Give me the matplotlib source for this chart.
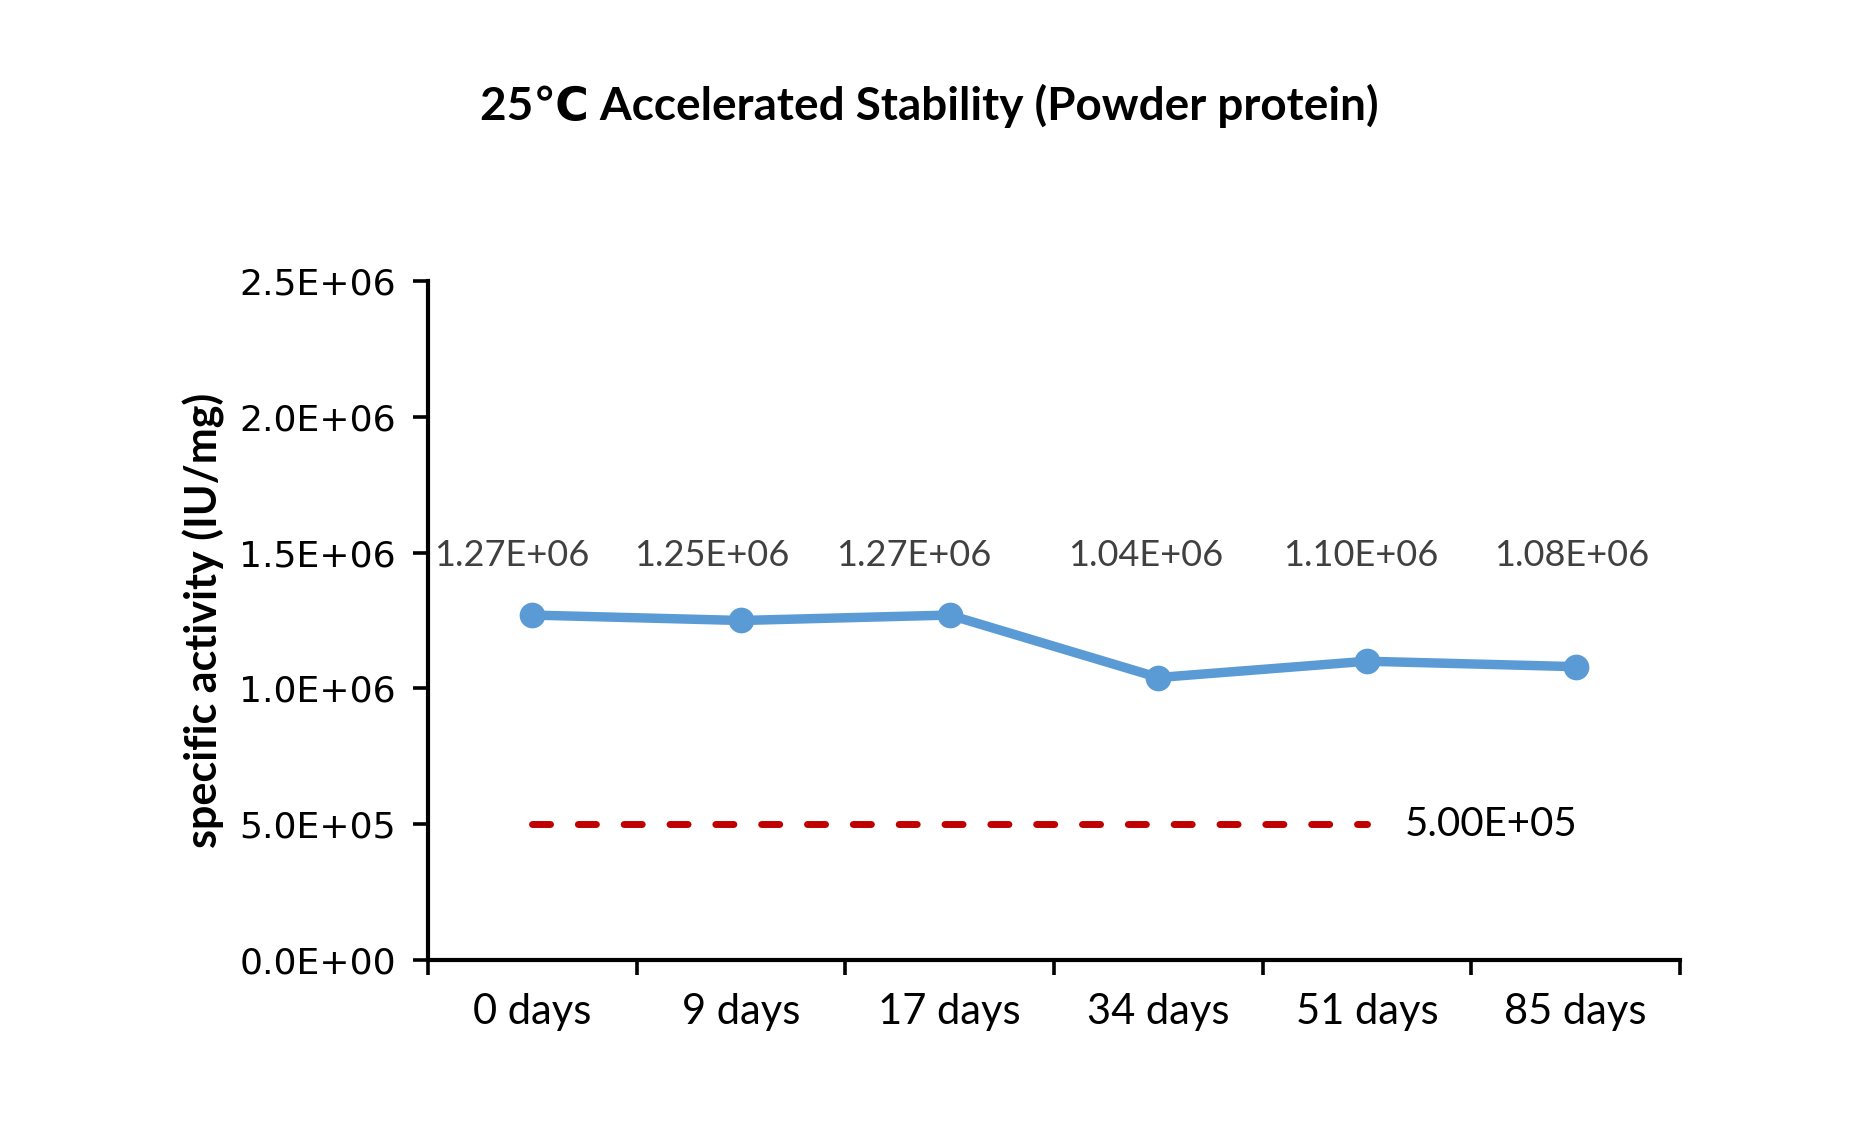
import matplotlib
matplotlib.use("Agg")
import matplotlib.pyplot as plt
import numpy as np

# data
days = ['0 days', '9 days', '17 days', '34 days', '51 days', '85 days']
activity = [1.27e6, 1.25e6, 1.27e6, 1.04e6, 1.10e6, 1.08e6]
activity_labels = ['1.27E+06', '1.25E+06', '1.27E+06', '1.04E+06', '1.10E+06', '1.08E+06']
spec_limit = [5.0e5, 5.0e5, 5.0e5, 5.0e5, 5.0e5]
spec_label = '5.00E+05'
y_ticks = [0, 5e5, 1e6, 1.5e6, 2e6, 2.5e6]
y_tick_labels = ['0.0E+00', '5.0E+05', '1.0E+06', '1.5E+06', '2.0E+06', '2.5E+06']

BLUE = '#5B9BD5'
RED = '#C00000'
LABEL_FONT = ['Lato', 'DejaVu Sans']

fig = plt.figure(figsize=(18.63, 11.48), dpi=100)
ax = fig.add_axes([0.2297, 0.1638, 0.9018 - 0.2297, 0.7552 - 0.1638])

x = np.arange(len(days))
ax.plot(x, activity, color=BLUE, lw=6.8, marker='o', ms=17.5, zorder=3)
ax.plot(x[:len(spec_limit)], spec_limit, color=RED, lw=5.0, dashes=(2.6, 4.0),
        dash_capstyle='round', zorder=2)

# data labels sit at roughly the same height in the reference
label_shift = [-0.10, -0.14, -0.17, -0.06, -0.03, -0.02]
for i, txt in enumerate(activity_labels):
    ax.text(x[i] + label_shift[i], 1.49e6, txt, ha='center', va='center',
            fontsize=26, color='#404040', family=LABEL_FONT)
ax.text(len(spec_limit) - 1 + 0.18, spec_limit[-1], spec_label, ha='left', va='center',
        fontsize=29, color='black', family=LABEL_FONT)

ax.set_xlim(-0.5, len(days) - 0.5)
ax.set_ylim(0, 2.5e6)

ax.set_yticks(y_ticks)
ax.set_yticklabels(y_tick_labels, fontsize=26, family='DejaVu Sans')
ax.tick_params(axis='y', direction='out', length=11, width=2.6, pad=12)

# category boundaries carry the ticks, names sit between them
ax.set_xticks(np.arange(-0.5, len(days)), minor=False)
ax.set_xticklabels([])
ax.set_xticks(x, minor=True)
ax.set_xticklabels(days, minor=True, fontsize=30, family=LABEL_FONT)
ax.tick_params(axis='x', which='major', direction='out', length=11, width=2.6)
ax.tick_params(axis='x', which='minor', length=0, pad=24)

for side in ['top', 'right']:
    ax.spines[side].set_visible(False)
for side in ['left', 'bottom']:
    ax.spines[side].set_linewidth(3)

ax.set_ylabel('specific activity (IU/mg)', fontsize=31, fontweight='bold',
              family=LABEL_FONT, labelpad=10)

fig.text(0.4987, 0.908, '25\u2103 Accelerated Stability (Powder protein)', ha='center', va='center',
         fontsize=33, fontweight='bold', family=['Lato', 'DejaVu Sans'])

fig.savefig('out.png', dpi=100, facecolor='white')
